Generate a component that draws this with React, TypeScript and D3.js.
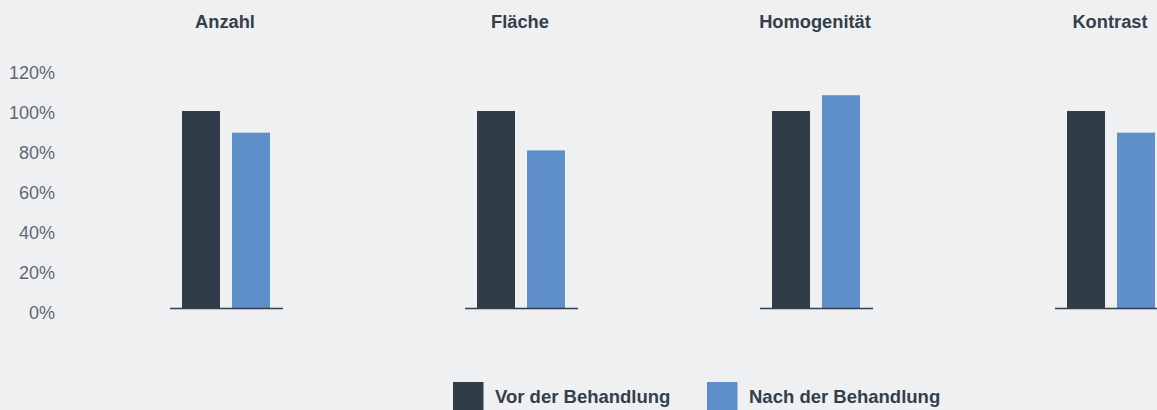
import React from "react";
import * as d3 from "d3";

const categories = ["Anzahl", "Fläche", "Homogenität", "Kontrast"];
const seriesNames = ["Vor der Behandlung", "Nach der Behandlung"];
const vorValues = [1.0, 1.0, 1.0, 1.0];
const nachValues = [0.89, 0.8, 1.08, 0.89];
const yTicks = [0, 0.2, 0.4, 0.6, 0.8, 1.0, 1.2];
const colors = ["#303d48", "#5f8fcb"];

const W = 1157;
const H = 410;
const FONT = "'Liberation Sans', Arial, Helvetica, sans-serif";

export default function App() {
  const x = d3
    .scaleBand<string>()
    .domain(categories)
    .range([170, 1168])
    .paddingInner(0.617)
    .paddingOuter(0);
  const xInner = d3
    .scaleBand<string>()
    .domain(seriesNames)
    .range([12, 100])
    .paddingInner(0.24)
    .paddingOuter(0);
  const y = d3.scaleLinear().domain([0, 1.2]).range([308, 71.6]);
  const yLabel = d3.scaleLinear().domain([0, 1.2]).range([319.3, 79.3]);
  const fmt = d3.format(".0%");
  const series = [vorValues, nachValues];

  return (
    <svg
      width={W}
      height={H}
      style={{ position: "absolute", left: 0, top: 0, background: "#eff0f2", display: "block" }}
      fontFamily={FONT}
    >
      <rect x={0} y={0} width={W} height={H} fill="#eff0f2" />
      {yTicks.map((t) => (
        <text key={t} x={55} y={yLabel(t)} textAnchor="end" fontSize={18} fill="#5e6872">
          {fmt(t)}
        </text>
      ))}
      {categories.map((c, i) => {
        const x0 = x(c)!;
        const bw = x.bandwidth();
        return (
          <g key={c}>
            <text
              x={x0 + bw / 2 - 1.5}
              y={27.7}
              textAnchor="middle"
              fontSize={18.3}
              fontWeight="bold"
              fill="#333f4a"
            >
              {c}
            </text>
            {series.map((vals, si) => (
              <rect
                key={si}
                x={x0 + xInner(seriesNames[si])!}
                y={y(vals[i])}
                width={xInner.bandwidth()}
                height={y(0) - y(vals[i])}
                fill={colors[si]}
              />
            ))}
            <line x1={x0} x2={x0 + bw} y1={y(0) + 0.5} y2={y(0) + 0.5} stroke="#333f4a" strokeWidth={1.3} />
          </g>
        );
      })}
      {seriesNames.map((s, si) => {
        const lx = [453, 707][si];
        return (
          <g key={s}>
            <rect x={lx} y={382} width={30.5} height={30} fill={colors[si]} />
            <text x={lx + 42} y={403.3} fontSize={18.5} fontWeight="bold" fill="#333f4a">
              {s}
            </text>
          </g>
        );
      })}
    </svg>
  );
}
